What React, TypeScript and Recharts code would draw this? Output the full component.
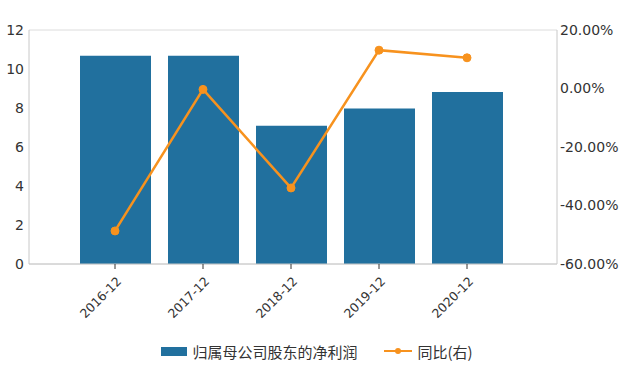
import React from "react";
import {
  Bar,
  CartesianGrid,
  ComposedChart,
  Legend,
  Line,
  XAxis,
  YAxis,
} from "recharts";

// 归属母公司股东的净利润 (亿) with 同比 growth on the right axis.
const PERIODS = ["2016-12", "2017-12", "2018-12", "2019-12", "2020-12"];
const NET_PROFIT = [10.68, 10.68, 7.09, 7.98, 8.82];
const YOY = [-48.7, -0.3, -34.0, 13.1, 10.5];

const LEFT_TICKS = [0, 2, 4, 6, 8, 10, 12];
const RIGHT_TICKS = [-60, -40, -20, 0, 20];

const BAR_COLOR = "#21709e";
const LINE_COLOR = "#f7921e";
const TEXT = "#333";
const FONT = "'DejaVu Sans', sans-serif";

const data = PERIODS.map((period, i) => ({
  period,
  profit: NET_PROFIT[i],
  yoy: YOY[i],
}));

const TICK = { fill: TEXT, fontSize: 14, fontFamily: FONT };

function AngledTick({ x, y, payload }: any) {
  return (
    <g transform={`translate(${x + 4},${y + 8})`}>
      <text
        transform="rotate(-45)"
        textAnchor="end"
        dominantBaseline="central"
        fill={TEXT}
        fontSize={12.5}
        fontFamily={FONT}
      >
        {payload.value}
      </text>
    </g>
  );
}

function ChartLegend() {
  return (
    <div
      style={{
        height: 30,
        display: "flex",
        alignItems: "center",
        justifyContent: "center",
        fontFamily: "'Noto Sans CJK SC', sans-serif",
        fontSize: 15,
        color: TEXT,
      }}
    >
      <span
        style={{ width: 26, height: 9, background: BAR_COLOR, marginRight: 5 }}
      />
      <span style={{ marginRight: 27 }}>归属母公司股东的净利润</span>
      <svg width={28} height={10} style={{ marginRight: 5 }}>
        <line x1={0} y1={5} x2={28} y2={5} stroke={LINE_COLOR} strokeWidth={2} />
        <circle cx={14} cy={5} r={3} fill={LINE_COLOR} />
      </svg>
      <span>同比(右)</span>
    </div>
  );
}

export default function App() {
  return (
    <div style={{ position: "absolute", left: 0, top: 0, background: "#fff" }}>
      <ComposedChart
        width={634}
        height={376}
        data={data}
        margin={{ top: 30, right: 0, bottom: 10, left: 0 }}
      >
        <CartesianGrid vertical={false} stroke="#dcdcdc" />
        <XAxis
          dataKey="period"
          padding={{ left: 42, right: 46 }}
          height={72}
          stroke="#c8c8c8"
          tickLine={{ stroke: TEXT }}
          tickSize={5}
          tick={<AngledTick />}
          interval={0}
        />
        <YAxis
          yAxisId="left"
          width={29}
          domain={[0, 12]}
          ticks={LEFT_TICKS}
          stroke="#c8c8c8"
          tickLine={false}
          tickSize={0}
          tickMargin={5}
          tick={TICK}
        />
        <YAxis
          yAxisId="right"
          orientation="right"
          width={77}
          domain={[-60, 20]}
          ticks={RIGHT_TICKS}
          stroke="#c8c8c8"
          tickLine={false}
          tickSize={0}
          tickMargin={3}
          tick={{ ...TICK, textAnchor: "start" }}
          tickFormatter={(v: number) => `${v.toFixed(2)}%`}
        />
        <Legend verticalAlign="bottom" content={<ChartLegend />} />
        <Bar
          yAxisId="left"
          dataKey="profit"
          fill={BAR_COLOR}
          barSize={71}
          isAnimationActive={false}
        />
        <Line
          yAxisId="right"
          dataKey="yoy"
          stroke={LINE_COLOR}
          strokeWidth={2.5}
          dot={{ r: 4, fill: LINE_COLOR, stroke: LINE_COLOR, strokeWidth: 1 }}
          activeDot={false}
          isAnimationActive={false}
        />
      </ComposedChart>
    </div>
  );
}
